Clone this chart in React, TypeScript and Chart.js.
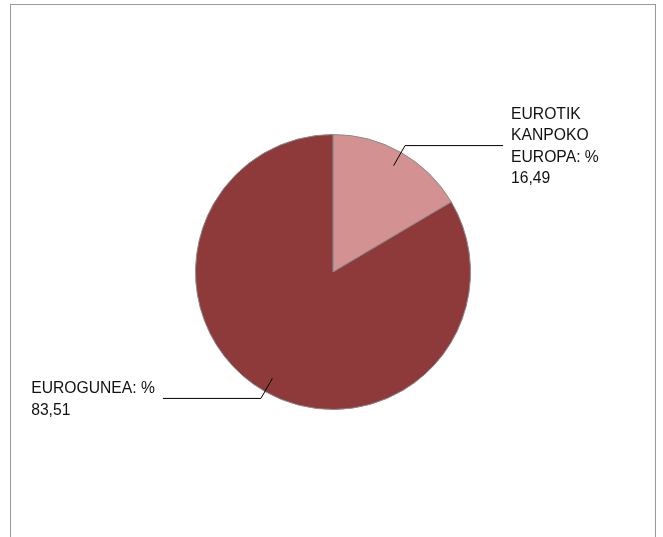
import React, { useEffect, useRef } from "react";
import { Chart, registerables } from "chart.js";

Chart.register(...registerables);

const categories = ["EUROTIK KANPOKO EUROPA", "EUROGUNEA"];
const values = [16.49, 83.51];
const labelLines = [["EUROTIK", "KANPOKO", "EUROPA: %"], ["EUROGUNEA: %"]];
const colors = ["#D39291", "#8E3A3A"];

const leaderPlugin = {
  id: "leaders",
  afterDraw(chart: any) {
    const ctx = chart.ctx;
    const meta = chart.getDatasetMeta(0);
    ctx.save();
    ctx.font = '15.7px "Liberation Sans", Arial, sans-serif';
    ctx.fillStyle = "#111";
    ctx.strokeStyle = "#000";
    ctx.lineWidth = 1;
    meta.data.forEach((arc: any, i: number) => {
      const { x, y, startAngle, endAngle, outerRadius } = arc.getProps(
        ["x", "y", "startAngle", "endAngle", "outerRadius"],
        true
      );
      const mid = (startAngle + endAngle) / 2;
      const cos = Math.cos(mid);
      const sin = Math.sin(mid);
      const ax = x + cos * outerRadius * 0.89;
      const ay = y + sin * outerRadius * 0.89;
      const er = outerRadius + 8;
      const ex = x + cos * er;
      const ey = y + sin * er;
      const right = cos >= 0;
      const hx = ex + (right ? 98 : -98);
      ctx.beginPath();
      ctx.moveTo(ax, ay);
      ctx.lineTo(ex, ey);
      ctx.lineTo(hx, ey);
      ctx.stroke();
      const lines = [...labelLines[i], values[i].toFixed(2).replace(".", ",")];
      const lh = 21.3;
      const n = lines.length;
      const widths = lines.map((l) => ctx.measureText(l).width);
      const maxW = Math.max(...widths);
      const tx = right ? hx + 8 : hx - 8 - maxW;
      ctx.textAlign = "left";
      ctx.textBaseline = "alphabetic";
      lines.forEach((l, j) => {
        const by = ey + (j - (n - 1) / 2) * lh + 5.5;
        ctx.fillText(l, tx, by);
      });
    });
    ctx.restore();
  },
};

export default function App() {
  const ref = useRef<HTMLCanvasElement>(null);
  useEffect(() => {
    document.body.style.margin = "0";
    const chart = new Chart(ref.current!, {
      type: "pie",
      data: {
        labels: categories,
        datasets: [
          {
            data: values,
            backgroundColor: colors,
            borderColor: "#8a8a8a",
            borderWidth: 1,
          },
        ],
      },
      options: {
        animation: false,
        responsive: false,
        layout: { padding: { left: 195, right: 192, top: 134, bottom: 127 } },
        plugins: {
          legend: { display: false },
          tooltip: { enabled: false },
        },
      },
      plugins: [leaderPlugin],
    });
    return () => chart.destroy();
  }, []);
  return (
    <div style={{ position: "relative", width: 663, height: 537, overflow: "hidden", background: "#fff" }}>
      <div
        style={{
          position: "absolute",
          left: 10,
          top: 4,
          width: 646,
          height: 600,
          border: "1px solid #999",
          boxSizing: "border-box",
        }}
      />
      <canvas ref={ref} width={663} height={537} style={{ position: "absolute", left: 0, top: 0 }} />
    </div>
  );
}
